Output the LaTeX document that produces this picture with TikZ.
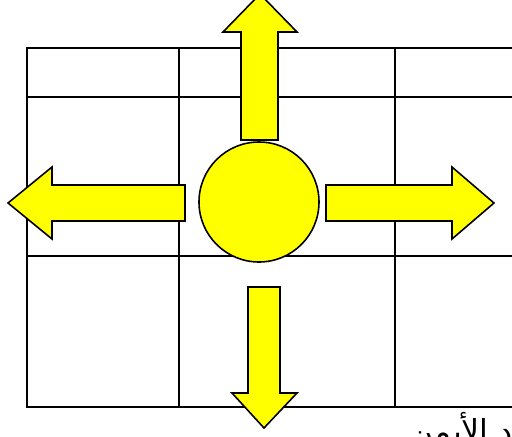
\documentclass[tikz,border=0pt]{standalone}
\usepackage{fontspec}
\newfontfamily\arabicfont[Script=Arabic]{DejaVu Sans}
\TeXXeTstate=1
\definecolor{arrowyellow}{RGB}{255,255,0}

\begin{document}
\begin{tikzpicture}[x=0.02cm, y=-0.02cm,
    gridline/.style={line width=1.2pt},
    arrowbody/.style={fill=arrowyellow, draw=black, line width=0.9pt, line join=miter}]
    \useasboundingbox (0,0) rectangle (512,437);

    % Grid
    \draw[gridline] (512,48) -- (27,48) -- (27,407) -- (512,407);
    \draw[gridline] (27,97) -- (512,97);
    \draw[gridline] (27,256) -- (512,256);
    \draw[gridline] (179,48) -- (179,407);
    \draw[gridline] (395,48) -- (395,407);

    % Ball in the middle
    \node[circle, arrowbody, minimum size=120*0.02cm, inner sep=0pt] (ball) at (259,202) {};

    % Arrows
    \draw[arrowbody] (241,140) -- (241,32) -- (223,32) -- (260,-6) -- (297,32) -- (278,32) -- (278,140) -- cycle;
    \draw[arrowbody] (248,287) -- (248,393) -- (232,393) -- (264,428) -- (297,393) -- (280,393) -- (280,287) -- cycle;
    \draw[arrowbody] (185,185) -- (52,185) -- (52,167) -- (8,203) -- (52,239) -- (52,221) -- (185,221) -- cycle;
    \draw[arrowbody] (326,185) -- (452,185) -- (452,167) -- (494,203) -- (452,239) -- (452,221) -- (326,221) -- cycle;

    % Caption, cut by the page edge
    \node[anchor=base east, inner sep=0pt] (caption) at (522,442)
        {\fontsize{18}{21}\selectfont\arabicfont\beginR اد الأيمن\endR};
\end{tikzpicture}
\end{document}
